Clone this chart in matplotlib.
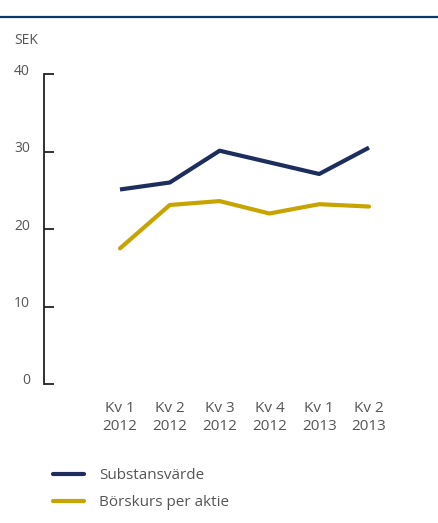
import matplotlib.pyplot as plt
from matplotlib.lines import Line2D
from matplotlib.transforms import ScaledTranslation

plt.rcParams['font.family'] = ['Open Sans', 'DejaVu Sans']

# Data
kvartal = ['Kv 1\n2012', 'Kv 2\n2012', 'Kv 3\n2012', 'Kv 4\n2012', 'Kv 1\n2013', 'Kv 2\n2013']
substansvarde = [25.1, 26.0, 30.1, 28.6, 27.1, 30.5]
borskurs = [17.5, 23.1, 23.6, 22.0, 23.2, 22.9]
y_ticks = [0, 10, 20, 30, 40]

navy = '#1c2d5e'
gold = '#c8a400'
grey = '#555555'

fig = plt.figure(figsize=(4.39, 5.23), dpi=100)
W, H = 439, 523

# top rule
fig.add_artist(Line2D([0, 1], [1 - 17 / H, 1 - 17 / H], color='#063a6b', lw=1.6,
                      transform=fig.transFigure))
fig.text(14 / W, 1 - 40 / H, 'SEK', fontsize=10, color=grey, va='center', ha='left')

ax = fig.add_axes([44 / W, (H - 384) / H, (W - 44) / W, 310 / H])
x = list(range(len(kvartal)))
ax.plot(x, substansvarde, color=navy, lw=3.0, solid_capstyle='butt', label='Substansvärde')
ax.plot(x, borskurs, color=gold, lw=3.0, solid_capstyle='round', label='Börskurs per aktie')

ax.set_ylim(0, 40)
ax.set_xlim(-76 / 49.8, 5 + (W - 44 - 325) / 49.8)
ax.set_yticks(y_ticks)
ax.set_xticks(x)
ax.set_xticklabels(kvartal, fontsize=11, color=grey, linespacing=1.3)
ax.tick_params(axis='x', length=0, pad=12)
ax.tick_params(axis='y', direction='in', length=7, width=1.3, color='#222222',
               labelsize=10, labelcolor=grey, pad=10)
for lab in ax.get_yticklabels():
    lab.set_transform(lab.get_transform() + ScaledTranslation(0, 5 / 100, fig.dpi_scale_trans))

for s in ['top', 'right', 'bottom']:
    ax.spines[s].set_visible(False)
ax.spines['left'].set_color('#222222')
ax.spines['left'].set_linewidth(1.3)

leg = fig.legend(loc='upper left', bbox_to_anchor=(47 / W, 1 - 462 / H), frameon=False,
                 fontsize=11, handlelength=2.0, handletextpad=1.0, labelspacing=0.78,
                 borderaxespad=0, labelcolor=grey)
for h in leg.get_lines():
    h.set_solid_capstyle('round')

fig.savefig('out.png', dpi=100)
